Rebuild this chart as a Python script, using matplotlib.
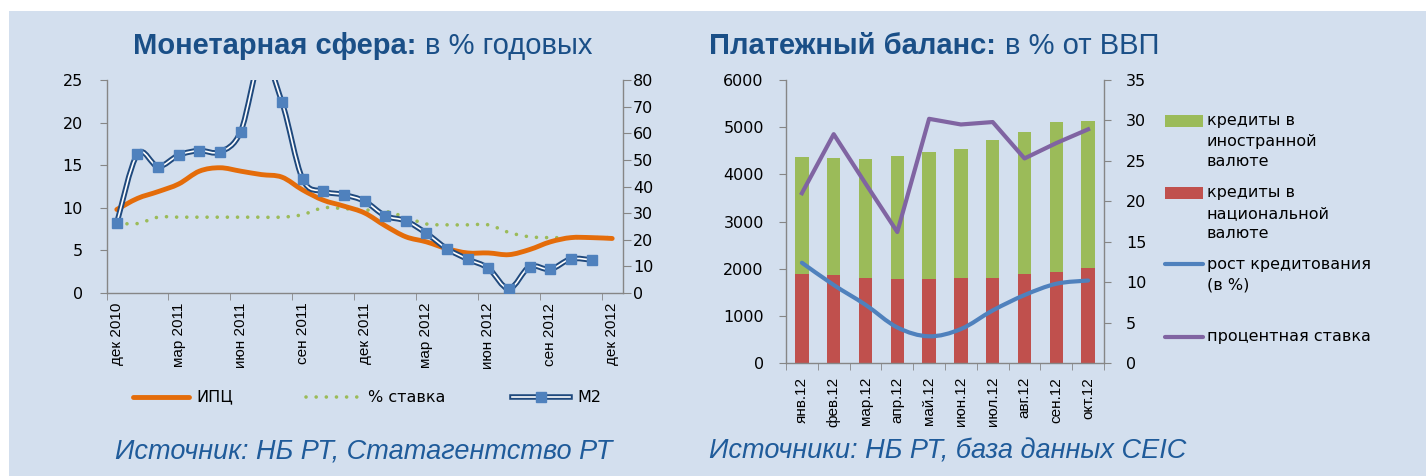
import matplotlib
matplotlib.use('Agg')
import matplotlib.pyplot as plt
from matplotlib.path import Path
from matplotlib.patches import PathPatch, Rectangle
from matplotlib.lines import Line2D
from matplotlib import font_manager
import numpy as np

# ---------------- данные: монетарная сфера ----------------
month_ticks = ['дек 2010', 'мар 2011', 'июн 2011', 'сен 2011', 'дек 2011',
               'мар 2012', 'июн 2012', 'сен 2012', 'дек 2012']
cpi = [9.8, 11.1, 11.9, 12.8, 14.3, 14.7, 14.3, 13.9, 13.6, 12.1, 10.9, 10.2, 9.4,
       7.9, 6.6, 6.0, 5.2, 4.7, 4.7, 4.5, 5.1, 6.0, 6.5, 6.5, 6.4]
rate = [8.2, 8.15, 8.9, 8.9, 8.9, 8.9, 8.9, 8.9, 8.9, 9.2, 10.0, 9.9, 9.75,
        9.6, 8.9, 8.1, 8.0, 8.0, 8.0, 7.1, 6.6, 6.5, 6.5, 6.5, 6.5]
m2 = [26.3, 52.2, 47.5, 51.8, 53.5, 53.0, 60.6, 88.0, 71.7, 42.8, 38.2, 36.9,
      34.5, 29.0, 27.1, 22.4, 16.6, 12.7, 9.3, 1.6, 9.9, 8.9, 12.8, 12.4]

# ---------------- данные: кредиты ----------------
months12 = ['янв.12', 'фев.12', 'мар.12', 'апр.12', 'май.12', 'июн.12',
            'июл.12', 'авг.12', 'сен.12', 'окт.12']
cred_nat = [1887, 1859, 1810, 1789, 1789, 1810, 1810, 1887, 1937, 2007]
cred_for = [2479, 2486, 2507, 2598, 2676, 2732, 2908, 3000, 3176, 3134]
growth = [12.4, 9.65, 7.2, 4.4, 3.3, 4.2, 6.5, 8.4, 9.8, 10.2]
int_rate = [21.0, 28.3, 22.2, 16.2, 30.2, 29.5, 29.8, 25.3, 27.2, 28.9]

W, H = 1426, 476
names = {f.name for f in font_manager.fontManager.ttflist}
narrow = 'Liberation Sans Narrow' if 'Liberation Sans Narrow' in names else 'Liberation Sans'
plt.rcParams['font.family'] = ['DejaVu Sans']

GRAY = '#868686'
TITLE = '#1A4F87'
SRC = '#1F5B9A'
DOTS = (0, (0.01, 2.8))


def fx(px):
    return px / W


def fy(py):
    return 1 - py / H


def smooth_path(x, y):
    # сглаженная линия как в Excel (кривые Безье через точки)
    x = np.asarray(x, float)
    y = np.asarray(y, float)
    n = len(x)
    verts = [(x[0], y[0])]
    codes = [Path.MOVETO]
    for i in range(n - 1):
        i0 = max(i - 1, 0)
        i3 = min(i + 2, n - 1)
        c1 = (x[i] + (x[i + 1] - x[i0]) / 6, y[i] + (y[i + 1] - y[i0]) / 6)
        c2 = (x[i + 1] - (x[i3] - x[i]) / 6, y[i + 1] - (y[i3] - y[i]) / 6)
        verts += [c1, c2, (x[i + 1], y[i + 1])]
        codes += [Path.CURVE4] * 3
    return Path(verts, codes)


def style_axes(ax, ax2, lpad, rpad, rlen):
    for a in (ax, ax2):
        a.set_facecolor('none')
        for s in a.spines.values():
            s.set_color(GRAY)
            s.set_linewidth(1)
        a.spines['top'].set_visible(False)
    ax.spines['right'].set_visible(False)
    ax2.spines['left'].set_visible(False)
    ax2.spines['bottom'].set_visible(False)
    ax.tick_params(axis='y', direction='out', length=5, color=GRAY, labelsize=11.5, pad=lpad)
    ax2.tick_params(axis='y', direction='out', length=rlen, color=GRAY, labelsize=11.5, pad=rpad)


fig = plt.figure(figsize=(W / 100, H / 100), dpi=100, facecolor='white')
fig.patches.append(Rectangle((fx(9), 0), 1 - fx(9), fy(11), transform=fig.transFigure,
                             facecolor='#D3DFEE', edgecolor='none', zorder=-10))

# ================= левый график =================
ax = fig.add_axes([fx(106.5), fy(293), fx(622.5) - fx(106.5), fy(80) - fy(293)])
ax2 = ax.twinx()
n = len(cpi)
idx = np.arange(n)
ax.set_xlim(-0.5, n - 0.5)
ax.set_ylim(0, 25)
ax.set_yticks(range(0, 26, 5))
ax2.set_ylim(0, 80)
ax2.set_yticks(range(0, 81, 10))
style_axes(ax, ax2, 12, 1.5, 6)

ax.set_xticks(idx[::3])
ax.set_xticklabels(month_ticks, rotation=90, fontsize=11, family='Liberation Sans')
ax.set_xticks(np.arange(-0.5, n - 1, 3), minor=True)
ax.tick_params(axis='x', which='major', length=0, pad=7)
ax.tick_params(axis='x', which='minor', direction='out', length=5, color=GRAY)

ax.add_patch(PathPatch(smooth_path(idx, rate), fill=False, edgecolor='#9BBB59', lw=2.6,
                       linestyle=DOTS, capstyle='round', zorder=2))
ax.add_patch(PathPatch(smooth_path(idx, cpi), fill=False, edgecolor='#E46C0A', lw=3.5,
                       capstyle='round', zorder=3))

im = np.arange(len(m2))
ax2.add_patch(PathPatch(smooth_path(im, m2), fill=False, edgecolor='#1F497D', lw=4.0, zorder=3))
ax2.add_patch(PathPatch(smooth_path(im, m2), fill=False, edgecolor='white', lw=1.2, zorder=4))
ax2.plot(im, m2, 's', ms=6.5, color='#4F81BD', zorder=5)

# легенда слева
ly = fy(397)
fig.add_artist(Line2D([fx(133), fx(189)], [ly, ly], color='#E46C0A', lw=3.5, solid_capstyle='round'))
fig.text(fx(196), ly, 'ИПЦ', fontsize=11.5, va='center')
fig.add_artist(Line2D([fx(306), fx(360)], [ly, ly], color='#9BBB59', lw=2.6,
                      linestyle=DOTS, dash_capstyle='round'))
fig.text(fx(368), ly, '% ставка', fontsize=11.5, va='center')
fig.add_artist(Line2D([fx(512), fx(570)], [ly, ly], color='#1F497D', lw=4.0))
fig.add_artist(Line2D([fx(512), fx(570)], [ly, ly], color='white', lw=1.2))
fig.add_artist(Line2D([fx(541)], [ly], marker='s', ms=6.5, color='#4F81BD'))
fig.text(fx(577), ly, 'M2', fontsize=11.5, va='center')

# ================= правый график =================
bx = fig.add_axes([fx(786), fy(363), fx(1104) - fx(786), fy(80) - fy(363)])
bx2 = bx.twinx()
k = np.arange(len(months12))
bx.set_xlim(-0.5, len(k) - 0.5)
bx.set_ylim(0, 6000)
bx.set_yticks(range(0, 6001, 1000))
bx2.set_ylim(0, 35)
bx2.set_yticks(range(0, 36, 5))
style_axes(bx, bx2, 11, 11, 5)

bx.bar(k, cred_nat, width=0.42, color='#C0504D', zorder=2)
bx.bar(k, cred_for, width=0.42, bottom=cred_nat, color='#9BBB59', zorder=2)
bx.set_xticks(k)
bx.set_xticklabels(months12, rotation=90, fontsize=11, family='Liberation Sans')
bx.set_xticks(np.arange(-0.5, len(k), 1), minor=True)
bx.tick_params(axis='x', which='major', length=0, pad=10)
bx.tick_params(axis='x', which='minor', direction='out', length=5, color=GRAY)

bx2.add_patch(PathPatch(smooth_path(k, growth), fill=False, edgecolor='#4F81BD', lw=3,
                        capstyle='round', zorder=3))
bx2.plot(k, int_rate, color='#8064A2', lw=3, zorder=3, solid_joinstyle='round')


# легенда справа
def leg_text(lines, y0):
    for j, t in enumerate(lines):
        fig.text(fx(1207), fy(y0 + 20.5 * j), t, fontsize=11.5, va='center')


fig.patches.append(Rectangle((fx(1165), fy(127)), fx(1203) - fx(1165), fy(115) - fy(127),
                             transform=fig.transFigure, facecolor='#9BBB59', edgecolor='none'))
leg_text(['кредиты в', 'иностранной', 'валюте'], 121)
fig.patches.append(Rectangle((fx(1165), fy(199)), fx(1203) - fx(1165), fy(187) - fy(199),
                             transform=fig.transFigure, facecolor='#C0504D', edgecolor='none'))
leg_text(['кредиты в', 'национальной', 'валюте'], 193)
fig.add_artist(Line2D([fx(1165), fx(1203)], [fy(264), fy(264)], color='#4F81BD', lw=3,
                      solid_capstyle='round'))
leg_text(['рост кредитования', '(в %)'], 264)
fig.add_artist(Line2D([fx(1165), fx(1203)], [fy(337), fy(337)], color='#8064A2', lw=3,
                      solid_capstyle='round'))
leg_text(['процентная ставка'], 337)

# ================= заголовки и источники =================
fig.text(fx(416), fy(46), 'Монетарная сфера:', family=narrow, weight='bold', fontsize=21,
         color=TITLE, ha='right', va='center')
fig.text(fx(425), fy(46), 'в % годовых', family=narrow, fontsize=21,
         color=TITLE, ha='left', va='center')
fig.text(fx(996), fy(46), 'Платежный баланс:', family=narrow, weight='bold', fontsize=21,
         color=TITLE, ha='right', va='center')
fig.text(fx(1005), fy(46), 'в % от ВВП', family=narrow, fontsize=21,
         color=TITLE, ha='left', va='center')

fig.text(fx(364), fy(452), 'Источник: НБ РТ, Статагентство РТ', family=narrow, style='italic',
         fontsize=19.5, color=SRC, ha='center', va='center')
fig.text(fx(948), fy(452), 'Источники: НБ РТ, база данных CEIC', family=narrow, style='italic',
         fontsize=19.5, color=SRC, ha='center', va='center')

fig.savefig('out.png', dpi=100, facecolor='white')
